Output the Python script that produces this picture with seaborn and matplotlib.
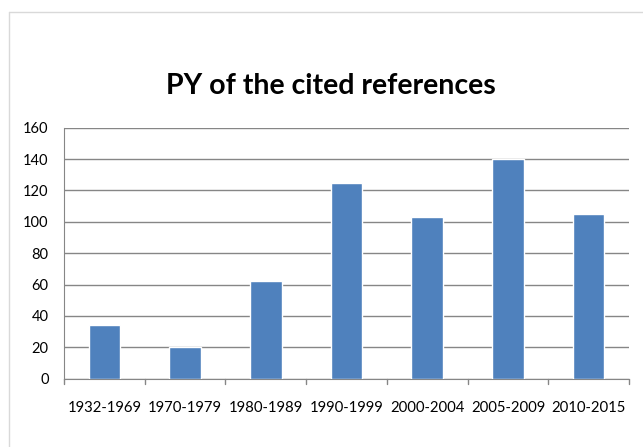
import matplotlib
matplotlib.use("Agg")
import matplotlib.pyplot as plt
import seaborn as sns
import pandas as pd
from matplotlib.lines import Line2D

categories = ["1932-1969", "1970-1979", "1980-1989", "1990-1999",
              "2000-2004", "2005-2009", "2010-2015"]
counts = [34, 20, 62, 125, 103, 140, 105]
y_ticks = [0, 20, 40, 60, 80, 100, 120, 140, 160]
title = "PY of the cited references"

sns.set_style("white")
plt.rcParams["font.family"] = ["Lato", "DejaVu Sans"]

W, H = 643, 447
fig = plt.figure(figsize=(W / 100, H / 100), dpi=100)
ax = fig.add_axes([64 / W, 1 - 378.7 / H, (629 - 64) / W, (378.7 - 127.7) / H])

df = pd.DataFrame({"period": categories, "count": counts})
sns.barplot(data=df, x="period", y="count", color="#4F81BD", width=0.39,
            saturation=1, ax=ax, zorder=3)

ax.set_ylim(0, 160)
ax.set_xlim(-0.5, len(categories) - 0.5)
ax.set_yticks(y_ticks)
ax.set_yticklabels([str(v) for v in y_ticks], fontsize=10.5, color="#000000")
ax.set_xlabel("")
ax.set_ylabel("")
ax.tick_params(axis="x", length=0, labelsize=10.7, pad=16, colors="#000000")
ax.tick_params(axis="y", length=5, width=1, color="#868686", pad=6)
for t in ax.get_xticklabels():
    t.set_color("#000000")

ax.yaxis.grid(True, color="#868686", linewidth=1)
ax.set_axisbelow(True)
for s in ["top", "right"]:
    ax.spines[s].set_visible(False)
ax.spines["left"].set_color("#868686")
ax.spines["bottom"].set_color("#868686")

# category boundary ticks on x-axis
for b in range(len(categories) + 1):
    ax.plot([b - 0.5, b - 0.5], [0, -0.02], transform=ax.get_xaxis_transform(),
            color="#868686", lw=1, clip_on=False)

fig.text(331 / W, 1 - 86 / H, title, ha="center", va="center",
         fontsize=20.5, fontweight="bold", color="#000000")

# chart area border (top and left only visible)
fig.add_artist(Line2D([9 / W, 1], [1 - 12 / H, 1 - 12 / H], color="#D9D9D9", lw=1))
fig.add_artist(Line2D([9 / W, 9 / W], [0, 1 - 12 / H], color="#D9D9D9", lw=1))

fig.savefig("out.png", dpi=100)
